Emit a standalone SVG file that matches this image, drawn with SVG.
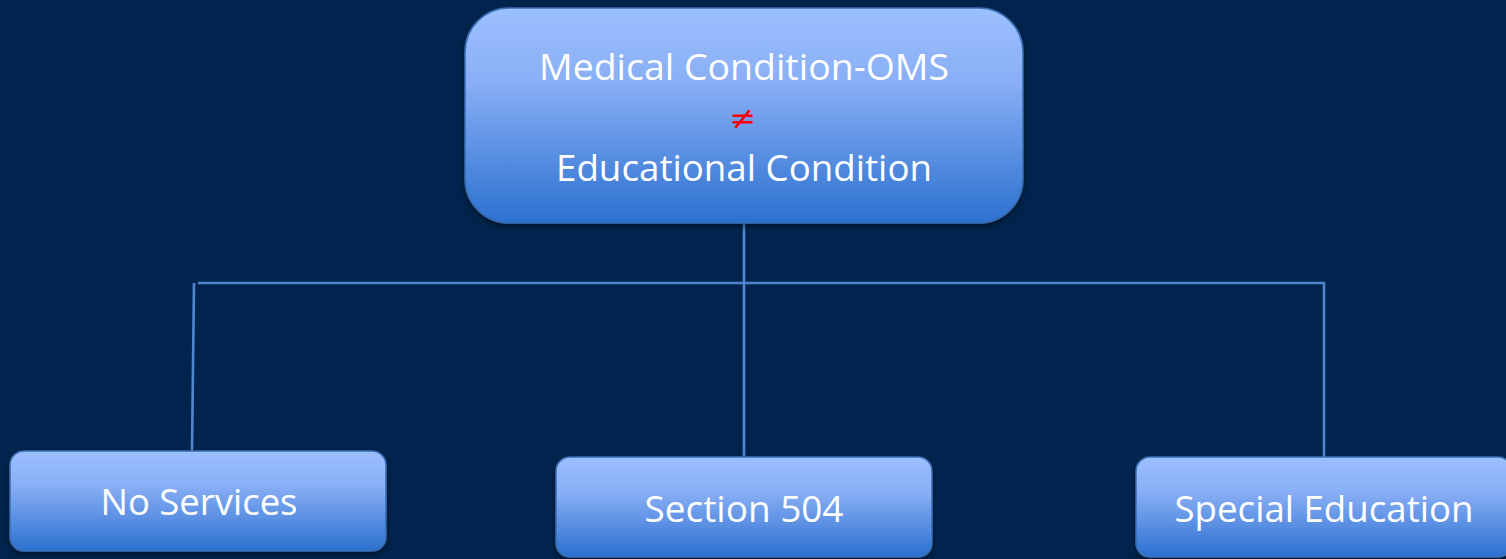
<svg xmlns="http://www.w3.org/2000/svg" width="1506" height="559" viewBox="0 0 1506 559">
<style>
.box{fill:url(#g);stroke:#3a6db3;stroke-width:1.5;filter:url(#sh)}
.t{font-family:"Open Sans","Liberation Sans",sans-serif;fill:#ffffff;text-anchor:middle}
.c{stroke:#4f86cf;stroke-width:2.6;fill:none}
</style>
<defs>
<linearGradient id="g" x1="0" y1="0" x2="0" y2="1">
<stop offset="0" stop-color="#9cbfff"/>
<stop offset="0.35" stop-color="#88aef5"/>
<stop offset="1" stop-color="#2b71cf"/>
</linearGradient>
<filter id="sh" x="-10%" y="-10%" width="120%" height="130%">
<feDropShadow dx="0" dy="3" stdDeviation="3" flood-color="#000000" flood-opacity="0.45"/>
</filter>
</defs>
<rect width="1506" height="559" fill="#01244e"/>
<g id="connectors">
<line class="c" x1="744" y1="223" x2="744" y2="457"/>
<line class="c" x1="198" y1="283" x2="1325" y2="283"/>
<line class="c" x1="194" y1="283" x2="192" y2="451"/>
<line class="c" x1="1324" y1="283" x2="1324" y2="457"/>
</g>
<g id="top">
<rect class="box" x="465" y="8" width="558" height="215" rx="44"/>
<text class="t" x="744" y="80" font-size="37" textLength="410" lengthAdjust="spacingAndGlyphs">Medical Condition-OMS</text>
<text x="743" y="129" font-family="'DejaVu Sans',sans-serif" font-size="32" fill="#ff0000" text-anchor="middle">≠</text>
<text class="t" x="744" y="181" font-size="37" textLength="376" lengthAdjust="spacingAndGlyphs">Educational Condition</text>
</g>
<g id="no-services">
<rect class="box" x="10" y="451" width="376" height="100" rx="14"/>
<text class="t" x="199" y="515" font-size="37" textLength="197" lengthAdjust="spacingAndGlyphs">No Services</text>
</g>
<g id="section-504">
<rect class="box" x="556" y="457" width="376" height="100" rx="14"/>
<text class="t" x="744" y="522" font-size="37" textLength="199" lengthAdjust="spacingAndGlyphs">Section 504</text>
</g>
<g id="special-education">
<rect class="box" x="1136" y="457" width="376" height="100" rx="14"/>
<text class="t" x="1324" y="522" font-size="37" textLength="299" lengthAdjust="spacingAndGlyphs">Special Education</text>
</g>
</svg>
